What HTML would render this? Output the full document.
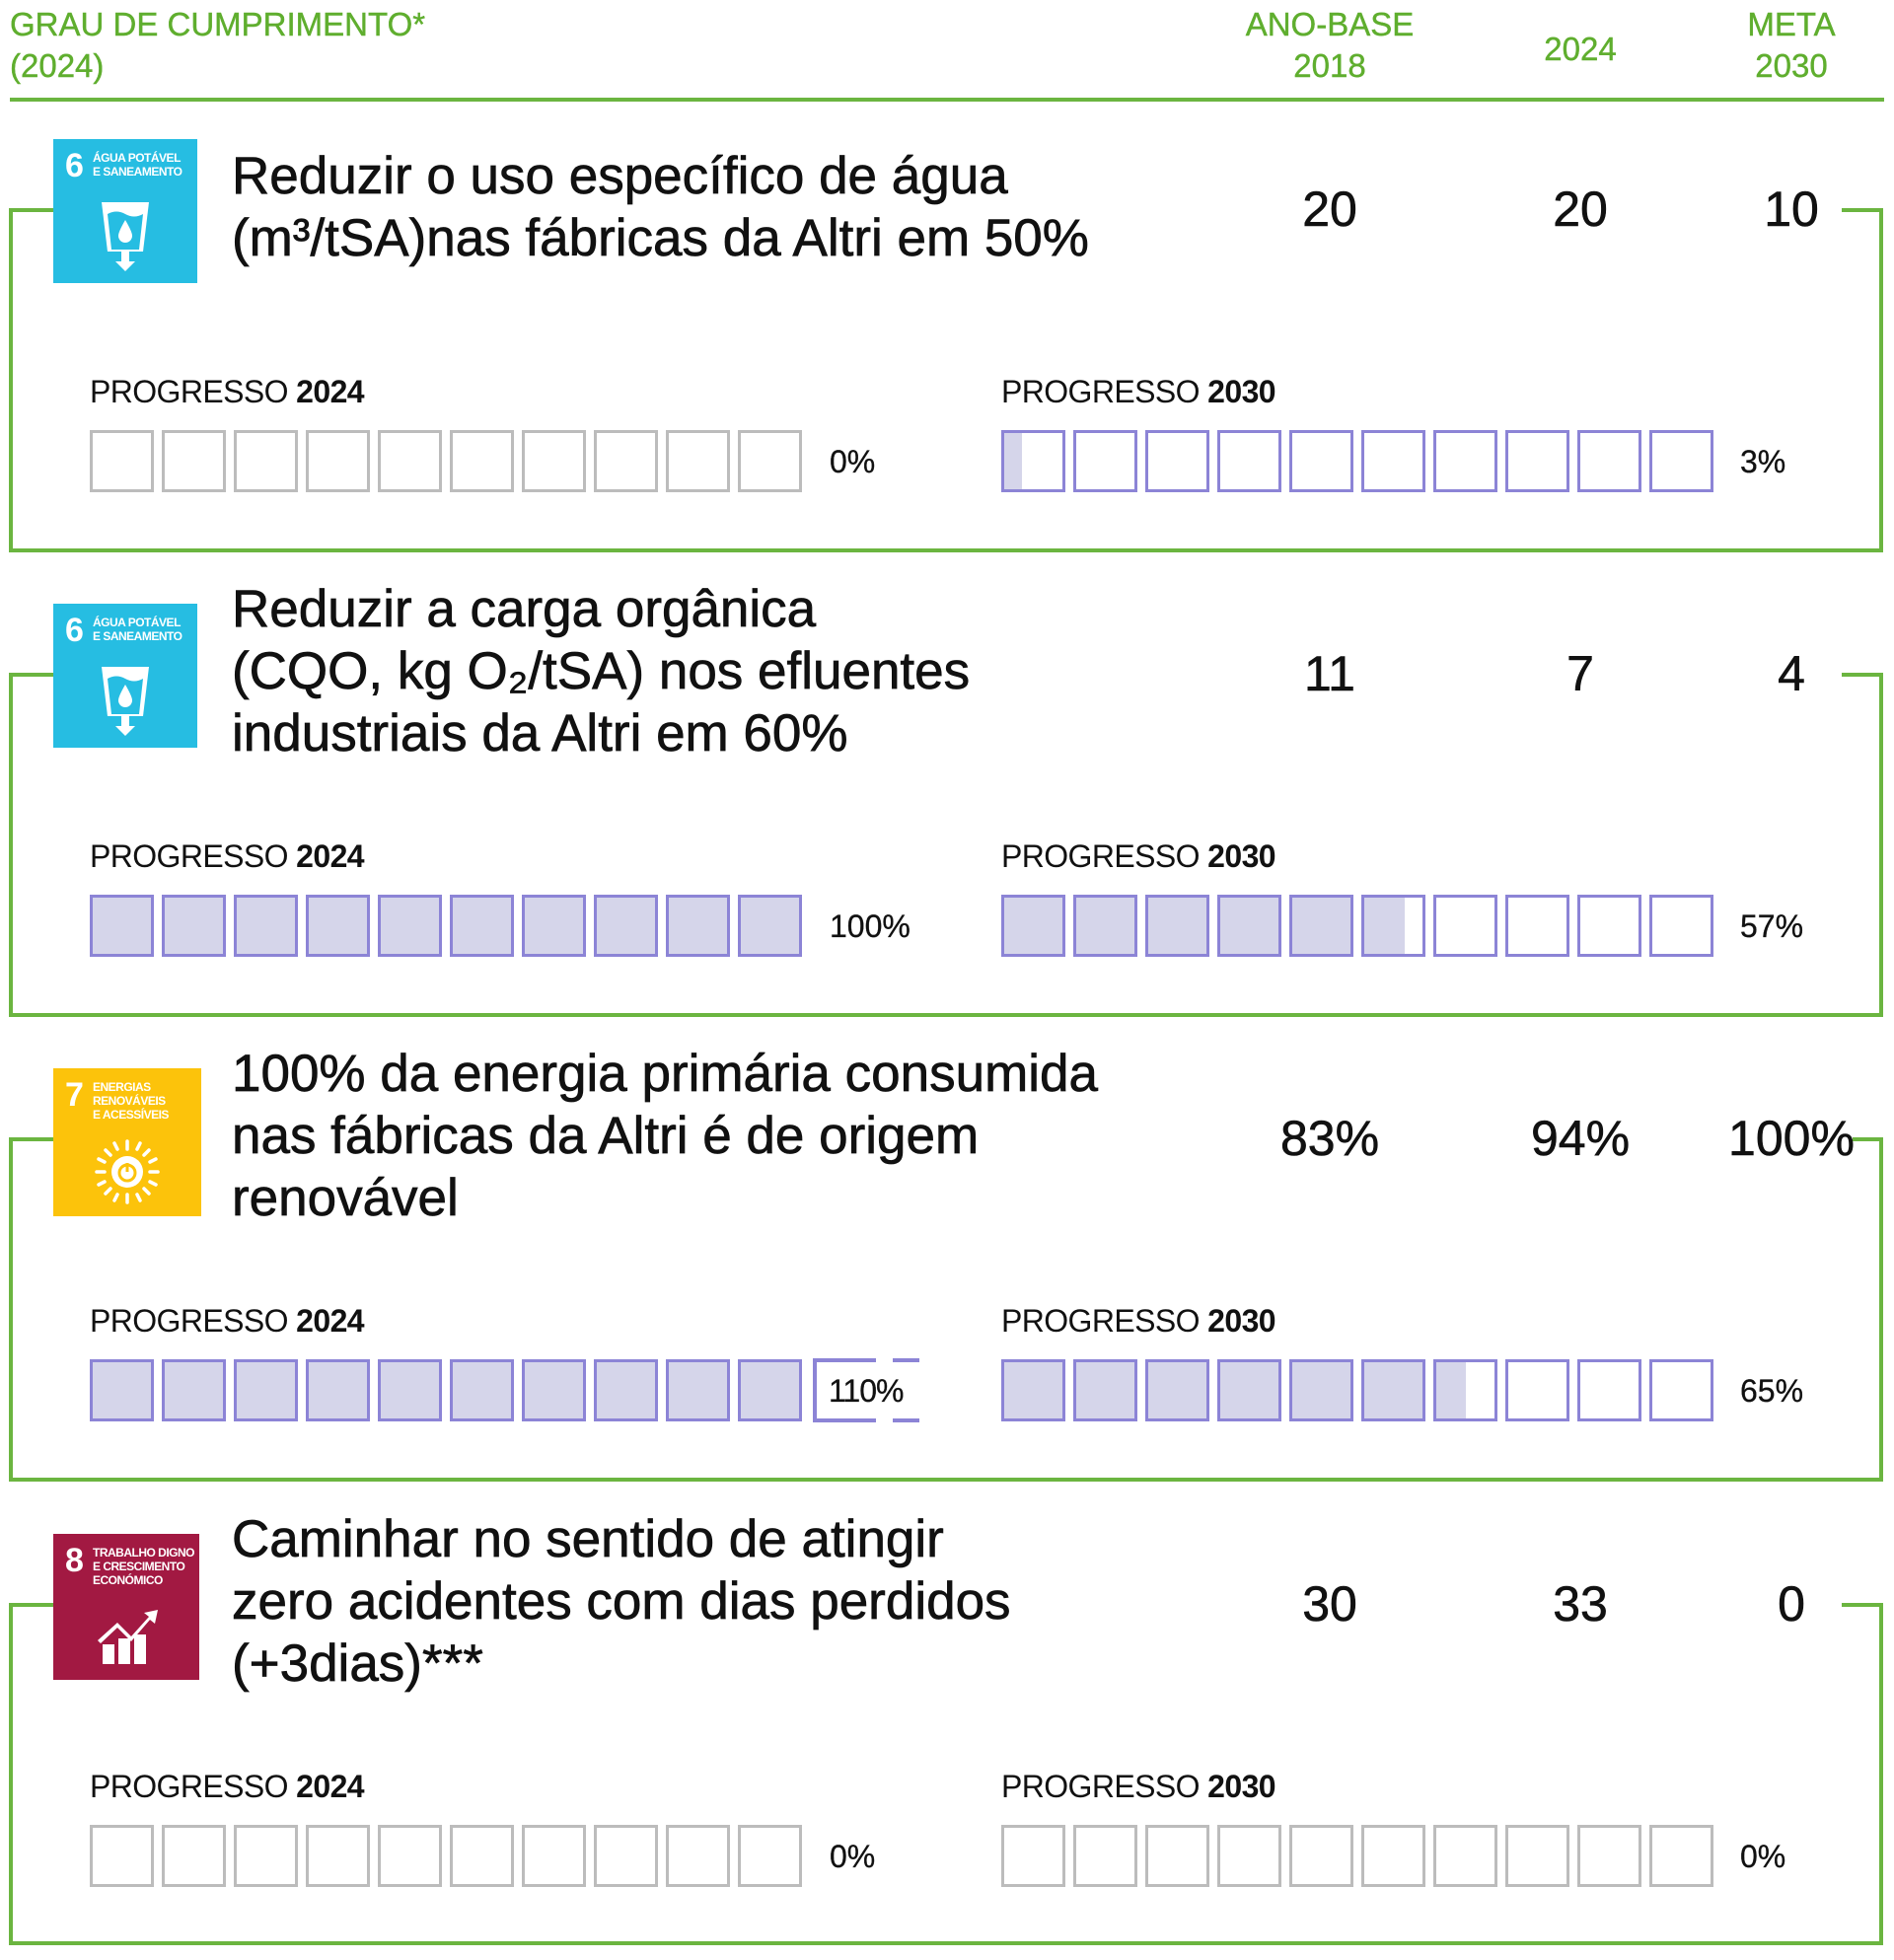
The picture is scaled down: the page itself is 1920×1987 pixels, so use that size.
<!DOCTYPE html>
<html><head><meta charset="utf-8"><style>
*{margin:0;padding:0;box-sizing:border-box}
body{width:1920px;height:1981px;background:#fff;position:relative;overflow:hidden;font-family:"Liberation Sans",sans-serif;color:#111}
.g{color:#5fae2e}
.abs{position:absolute}
.line{position:absolute;background:#6bb540}
.hdr{font-size:33px;line-height:42px;position:absolute;-webkit-text-stroke:0.4px #5fae2e}
.sec{position:absolute;left:0;width:1920px;height:360px}
.title{position:absolute;left:235px;top:-66px;font-size:53px;line-height:63px;white-space:nowrap;-webkit-text-stroke:0.7px #111}
.t3{top:-98px}
.num{position:absolute;top:-31px;font-size:50px;line-height:60px;width:240px;margin-left:-120px;text-align:center;-webkit-text-stroke:0.6px #111}
.lab{position:absolute;top:166px;font-size:32px;line-height:36px;letter-spacing:-0.6px}
.lab b{font-weight:bold}
.row{position:absolute;top:223px;display:flex;gap:8px}
.bx{width:65px;height:63px;border:3.5px solid #8c84d6;background:#fff;position:relative}
.bx.gr{border-color:#bcbcbc}
.bx i{position:absolute;left:0;top:0;bottom:0;background:#d5d5ea}
.pct{position:absolute;top:237px;font-size:32px;line-height:36px;-webkit-text-stroke:0.3px #111}
.icon{position:absolute;left:54px;top:-72px;width:146px;height:146px;color:#fff;font-family:"Liberation Sans",sans-serif}
.icon .n{position:absolute;left:12px;top:8px;font-size:34px;font-weight:bold}
.icon .t{position:absolute;left:40px;top:12px;font-size:12px;font-weight:bold;line-height:14px;letter-spacing:-0.5px}
</style></head><body>
<div class="hdr g" style="left:10px;top:4px">GRAU DE CUMPRIMENTO*<br>(2024)</div>
<div class="hdr g" style="left:1228px;top:4px;width:240px;text-align:center">ANO-BASE<br>2018</div>
<div class="hdr g" style="left:1502px;top:29px;width:200px;text-align:center">2024</div>
<div class="hdr g" style="left:1716px;top:4px;width:200px;text-align:center">META<br>2030</div>
<div class="line" style="left:10px;top:99px;width:1900px;height:4px"></div>

<!-- Section 1 -->
<div class="sec" style="top:213px">
<div class="line" style="left:9px;top:-2px;width:46px;height:4px"></div>
<div class="line" style="left:9px;top:-2px;width:4px;height:349px"></div>
<div class="line" style="left:9px;top:343px;width:1900px;height:4px"></div>
<div class="line" style="left:1867px;top:-2px;width:42px;height:4px"></div>
<div class="line" style="left:1905px;top:-2px;width:4px;height:349px"></div>
<div class="icon" style="background:#26bde2"><span class="n">6</span><span class="t">ÁGUA POTÁVEL<br>E SANEAMENTO</span>
<svg class="abs" style="left:45px;top:62px" width="56" height="72" viewBox="0 0 56 72"><path d="M4 2h48l-6 50H10z" fill="#fff"/><path d="M10 14q9-5 18 0t18 0l-4 36H14z" fill="#26bde2"/><path d="M28 20q-7 12-7 16a7 7 0 0 0 14 0q0-4-7-16z" fill="#fff"/><path d="M24 52h8v10h6l-10 10-10-10h6z" fill="#fff"/></svg></div>
<div class="title">Reduzir o uso específico de água<br>(m³/tSA)nas fábricas da Altri em 50%</div>
<div class="num" style="left:1348px">20</div><div class="num" style="left:1602px">20</div><div class="num" style="left:1816px">10</div>
<div class="lab" style="left:91px">PROGRESSO <b>2024</b></div>
<div class="row" style="left:91px"><div class="bx gr"></div><div class="bx gr"></div><div class="bx gr"></div><div class="bx gr"></div><div class="bx gr"></div><div class="bx gr"></div><div class="bx gr"></div><div class="bx gr"></div><div class="bx gr"></div><div class="bx gr"></div></div>
<div class="pct" style="left:841px">0%</div>
<div class="lab" style="left:1015px">PROGRESSO <b>2030</b></div>
<div class="row" style="left:1015px"><div class="bx"><i style="width:30%"></i></div><div class="bx"></div><div class="bx"></div><div class="bx"></div><div class="bx"></div><div class="bx"></div><div class="bx"></div><div class="bx"></div><div class="bx"></div><div class="bx"></div></div>
<div class="pct" style="left:1764px">3%</div>
</div>

<!-- Section 2 -->
<div class="sec" style="top:684px">
<div class="line" style="left:9px;top:-2px;width:46px;height:4px"></div>
<div class="line" style="left:9px;top:-2px;width:4px;height:349px"></div>
<div class="line" style="left:9px;top:343px;width:1900px;height:4px"></div>
<div class="line" style="left:1867px;top:-2px;width:42px;height:4px"></div>
<div class="line" style="left:1905px;top:-2px;width:4px;height:349px"></div>
<div class="icon" style="background:#26bde2"><span class="n">6</span><span class="t">ÁGUA POTÁVEL<br>E SANEAMENTO</span>
<svg class="abs" style="left:45px;top:62px" width="56" height="72" viewBox="0 0 56 72"><path d="M4 2h48l-6 50H10z" fill="#fff"/><path d="M10 14q9-5 18 0t18 0l-4 36H14z" fill="#26bde2"/><path d="M28 20q-7 12-7 16a7 7 0 0 0 14 0q0-4-7-16z" fill="#fff"/><path d="M24 52h8v10h6l-10 10-10-10h6z" fill="#fff"/></svg></div>
<div class="title t3">Reduzir a carga orgânica<br>(CQO, kg O₂/tSA) nos efluentes<br>industriais da Altri em 60%</div>
<div class="num" style="left:1348px">11</div><div class="num" style="left:1602px">7</div><div class="num" style="left:1816px">4</div>
<div class="lab" style="left:91px">PROGRESSO <b>2024</b></div>
<div class="row" style="left:91px"><div class="bx"><i style="width:100%"></i></div><div class="bx"><i style="width:100%"></i></div><div class="bx"><i style="width:100%"></i></div><div class="bx"><i style="width:100%"></i></div><div class="bx"><i style="width:100%"></i></div><div class="bx"><i style="width:100%"></i></div><div class="bx"><i style="width:100%"></i></div><div class="bx"><i style="width:100%"></i></div><div class="bx"><i style="width:100%"></i></div><div class="bx"><i style="width:100%"></i></div></div>
<div class="pct" style="left:841px">100%</div>
<div class="lab" style="left:1015px">PROGRESSO <b>2030</b></div>
<div class="row" style="left:1015px"><div class="bx"><i style="width:100%"></i></div><div class="bx"><i style="width:100%"></i></div><div class="bx"><i style="width:100%"></i></div><div class="bx"><i style="width:100%"></i></div><div class="bx"><i style="width:100%"></i></div><div class="bx"><i style="width:70%"></i></div><div class="bx"></div><div class="bx"></div><div class="bx"></div><div class="bx"></div></div>
<div class="pct" style="left:1764px">57%</div>
</div>

<!-- Section 3 -->
<div class="sec" style="top:1155px">
<div class="line" style="left:9px;top:-2px;width:46px;height:4px"></div>
<div class="line" style="left:9px;top:-2px;width:4px;height:349px"></div>
<div class="line" style="left:9px;top:343px;width:1900px;height:4px"></div>
<div class="line" style="left:1878px;top:-2px;width:31px;height:4px"></div>
<div class="line" style="left:1905px;top:-2px;width:4px;height:349px"></div>
<div class="icon" style="background:#fcc30b;top:-72px;width:150px;height:150px"><span class="n">7</span><span class="t">ENERGIAS<br>RENOVÁVEIS<br>E ACESSÍVEIS</span>
<svg class="abs" style="left:42px;top:72px" width="66" height="66" viewBox="0 0 66 66"><g stroke="#fff" stroke-width="3.5" stroke-linecap="round"><line x1="33" y1="2" x2="33" y2="10"/><line x1="33" y1="56" x2="33" y2="64"/><line x1="2" y1="33" x2="10" y2="33"/><line x1="56" y1="33" x2="64" y2="33"/><line x1="11" y1="11" x2="16" y2="16"/><line x1="50" y1="50" x2="55" y2="55"/><line x1="55" y1="11" x2="50" y2="16"/><line x1="11" y1="55" x2="16" y2="50"/><line x1="20" y1="4" x2="23" y2="10"/><line x1="46" y1="4" x2="43" y2="10"/><line x1="20" y1="62" x2="23" y2="56"/><line x1="46" y1="62" x2="43" y2="56"/><line x1="4" y1="20" x2="10" y2="23"/><line x1="62" y1="20" x2="56" y2="23"/><line x1="4" y1="46" x2="10" y2="43"/><line x1="62" y1="46" x2="56" y2="43"/></g><circle cx="33" cy="33" r="16" fill="#fff"/><circle cx="33" cy="34" r="8" fill="none" stroke="#fcc30b" stroke-width="3"/><line x1="33" y1="24" x2="33" y2="33" stroke="#fcc30b" stroke-width="3"/></svg></div>
<div class="title t3">100% da energia primária consumida<br>nas fábricas da Altri é de origem<br>renovável</div>
<div class="num" style="left:1348px">83%</div><div class="num" style="left:1602px">94%</div><div class="num" style="left:1816px">100%</div>
<div class="lab" style="left:91px">PROGRESSO <b>2024</b></div>
<div class="row" style="left:91px"><div class="bx"><i style="width:100%"></i></div><div class="bx"><i style="width:100%"></i></div><div class="bx"><i style="width:100%"></i></div><div class="bx"><i style="width:100%"></i></div><div class="bx"><i style="width:100%"></i></div><div class="bx"><i style="width:100%"></i></div><div class="bx"><i style="width:100%"></i></div><div class="bx"><i style="width:100%"></i></div><div class="bx"><i style="width:100%"></i></div><div class="bx"><i style="width:100%"></i></div></div>
<div class="abs" style="left:824px;top:222px;width:4px;height:65px;background:#8c84d6"></div>
<div class="abs" style="left:824px;top:222px;width:64px;height:4px;background:#8c84d6"></div>
<div class="abs" style="left:824px;top:283px;width:64px;height:4px;background:#8c84d6"></div>
<div class="abs" style="left:905px;top:222px;width:27px;height:4px;background:#8c84d6"></div>
<div class="abs" style="left:905px;top:283px;width:27px;height:4px;background:#8c84d6"></div>
<div class="pct" style="left:840px;letter-spacing:-1px">110%</div>
<div class="lab" style="left:1015px">PROGRESSO <b>2030</b></div>
<div class="row" style="left:1015px"><div class="bx"><i style="width:100%"></i></div><div class="bx"><i style="width:100%"></i></div><div class="bx"><i style="width:100%"></i></div><div class="bx"><i style="width:100%"></i></div><div class="bx"><i style="width:100%"></i></div><div class="bx"><i style="width:100%"></i></div><div class="bx"><i style="width:50%"></i></div><div class="bx"></div><div class="bx"></div><div class="bx"></div></div>
<div class="pct" style="left:1764px">65%</div>
</div>

<!-- Section 4 -->
<div class="sec" style="top:1627px">
<div class="line" style="left:9px;top:-2px;width:46px;height:4px"></div>
<div class="line" style="left:9px;top:-2px;width:4px;height:347px"></div>
<div class="line" style="left:9px;top:341px;width:1900px;height:4px"></div>
<div class="line" style="left:1867px;top:-2px;width:42px;height:4px"></div>
<div class="line" style="left:1905px;top:-2px;width:4px;height:347px"></div>
<div class="icon" style="background:#a21942;top:-72px;width:148px;height:148px"><span class="n">8</span><span class="t">TRABALHO DIGNO<br>E CRESCIMENTO<br>ECONÓMICO</span>
<svg class="abs" style="left:42px;top:68px" width="66" height="66" viewBox="0 0 66 66"><path d="M3 40l20-18 14 14 18-20-5-4 14-3-3 14-5-4-19 22-14-14-17 16z" fill="#fff"/><rect x="8" y="44" width="12" height="20" fill="#fff"/><rect x="24" y="38" width="12" height="26" fill="#fff"/><rect x="40" y="34" width="12" height="30" fill="#fff"/></svg></div>
<div class="title t3">Caminhar no sentido de atingir<br>zero acidentes com dias perdidos<br>(+3dias)***</div>
<div class="num" style="left:1348px">30</div><div class="num" style="left:1602px">33</div><div class="num" style="left:1816px">0</div>
<div class="lab" style="left:91px">PROGRESSO <b>2024</b></div>
<div class="row" style="left:91px"><div class="bx gr"></div><div class="bx gr"></div><div class="bx gr"></div><div class="bx gr"></div><div class="bx gr"></div><div class="bx gr"></div><div class="bx gr"></div><div class="bx gr"></div><div class="bx gr"></div><div class="bx gr"></div></div>
<div class="pct" style="left:841px">0%</div>
<div class="lab" style="left:1015px">PROGRESSO <b>2030</b></div>
<div class="row" style="left:1015px"><div class="bx gr"></div><div class="bx gr"></div><div class="bx gr"></div><div class="bx gr"></div><div class="bx gr"></div><div class="bx gr"></div><div class="bx gr"></div><div class="bx gr"></div><div class="bx gr"></div><div class="bx gr"></div></div>
<div class="pct" style="left:1764px">0%</div>
</div>
</body></html>
